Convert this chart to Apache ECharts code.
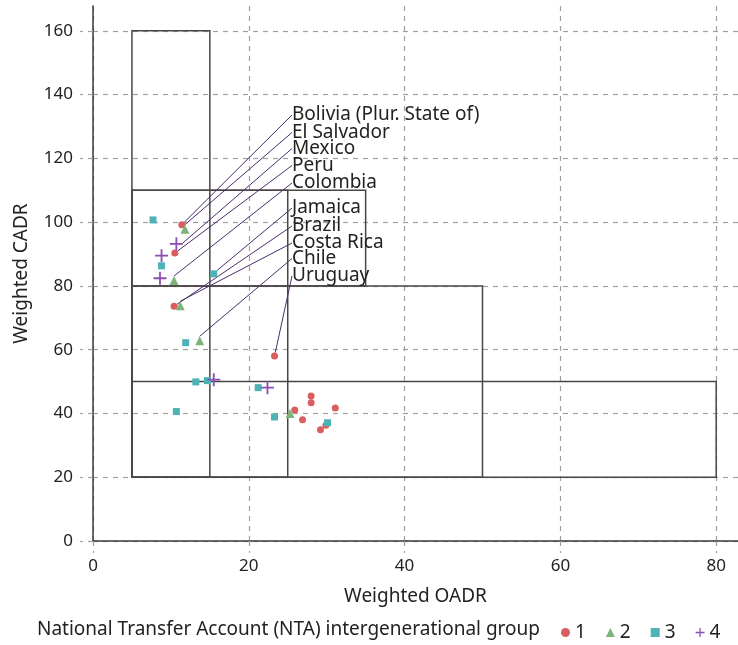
<!DOCTYPE html>
<html><head><meta charset="utf-8">
<script src="https://cdn.jsdelivr.net/npm/echarts@6/dist/echarts.min.js"></script>
<style>html,body{margin:0;padding:0;background:#fff}#c{width:738px;height:645px}</style>
</head><body><div id="c"></div>
<script>
const xTicks = [0, 20, 40, 60, 80];
const yTicks = [0, 20, 40, 60, 80, 100, 120, 140, 160];
const groupNames = ['1', '2', '3', '4'];
const group1 = [[11.4, 99.2], [10.5, 90.3], [10.4, 73.6], [23.3, 58.0], [28.0, 45.5], [28.0, 43.4], [25.9, 41.1], [26.9, 38.0], [31.1, 41.7], [29.9, 36.3], [29.2, 34.9]];
const group2 = [[11.8, 97.8], [10.4, 81.7], [11.2, 73.8], [13.7, 62.8], [25.3, 40.0]];
const group3 = [[7.7, 100.7], [8.8, 86.3], [15.5, 83.8], [11.9, 62.2], [13.2, 49.9], [14.7, 50.3], [21.2, 48.1], [10.7, 40.6], [23.3, 38.9], [30.1, 37.1]];
const group4 = [[10.7, 93.2], [8.8, 89.5], [8.6, 82.4], [15.5, 50.6], [22.4, 48.1]];
// [country, group index, point index]
const countryLabels = [
  ['Bolivia (Plur. State of)', 0, 0],
  ['El Salvador', 1, 0],
  ['Mexico', 3, 0],
  ['Peru', 0, 1],
  ['Colombia', 1, 1],
  ['Jamaica', 2, 2],
  ['Brazil', 0, 2],
  ['Costa Rica', 1, 2],
  ['Chile', 1, 3],
  ['Uruguay', 0, 3]
];
// boxes: [xMin, xMax, yMin, yMax]
const boxes = [[5, 15, 20, 160], [5, 35, 80, 110], [5, 25, 20, 110], [5, 50, 20, 80], [5, 80, 20, 50]];

// ---- styling / layout ----
const FONT = '"Noto Sans", sans-serif';
const TXT = '#222';
const colors = ['#d95f5f', '#7db37b', '#4db3b7', '#8b4fb3'];
const symbols = ['circle', 'triangle', 'rect', 'path://M0,0.43H0.43V0H0.57V0.43H1V0.57H0.57V1H0.43V0.57H0Z'];
const sizes = [7, 9, 7, 13];
const labelX = 292;
const labelSlotY = [115, 132.5, 148.5, 165.5, 183, 208, 226, 243, 258.5, 276];
const groups = [group1, group2, group3, group4];

function slotOf(g, i) {
  return countryLabels.findIndex(c => c[1] === g && c[2] === i);
}
function seriesData(g) {
  return groups[g].map((p, i) => {
    const s = slotOf(g, i);
    const item = { value: p };
    if (s >= 0) { item.name = countryLabels[s][0]; item.label = { show: true }; item.labelLine = { show: true }; }
    return item;
  });
}

const chart = echarts.init(document.getElementById('c'), null, { renderer: 'canvas' });
const gridLine = { show: true, lineStyle: { color: '#a0a0a0', type: [5, 5], width: 1.2 } };
const scatterSeries = groups.map((g, gi) => ({
  name: groupNames[gi],
  type: 'scatter',
  z: 3,
  symbol: symbols[gi],
  symbolSize: sizes[gi],
  itemStyle: { color: colors[gi], opacity: 1 },
  data: seriesData(gi),
  label: {
    show: false,
    formatter: '{b}',
    fontSize: 19,
    lineHeight: 19,
    fontFamily: FONT,
    color: TXT
  },
  labelLine: { show: false, lineStyle: { color: '#4b2d6b', width: 1 } },
  labelLayout: function (params) {
    const s = slotOf(gi, params.dataIndex);
    if (s < 0) return {};
    return { x: labelX, y: labelSlotY[s], align: 'left', verticalAlign: 'middle' };
  },
  emphasis: { disabled: true }
}));

chart.setOption({
  animation: false,
  backgroundColor: '#fff',
  title: {
    text: 'National Transfer Account (NTA) intergenerational group',
    left: 37, top: 620,
    padding: 0,
    textStyle: { fontSize: 19, fontWeight: 'normal', color: TXT, fontFamily: FONT }
  },
  legend: {
    data: groupNames,
    left: 561, top: 623,
    padding: 0,
    itemWidth: 9, itemHeight: 9,
    itemGap: 20,
    textStyle: { fontSize: 19, color: TXT, fontFamily: FONT, padding: [0, 0, 0, 0] }
  },
  grid: { left: 93, right: 0, top: 6, bottom: 104, containLabel: false, outerBoundsMode: 'none' },
  xAxis: {
    type: 'value', min: 0, max: 82.8,
    name: 'Weighted OADR', nameLocation: 'middle', nameGap: 46,
    nameTextStyle: { fontSize: 19, color: TXT, fontFamily: FONT },
    axisLine: { onZero: false, lineStyle: { color: '#3a3a3a', width: 1.5 } },
    axisTick: { show: true, length: 12, customValues: xTicks, lineStyle: { color: '#a0a0a0', type: [5, 5], width: 1.2 } },
    axisLabel: { customValues: xTicks, fontSize: 17, color: TXT, fontFamily: FONT, margin: 17 },
    splitLine: gridLine
  },
  yAxis: {
    type: 'value', min: 0, max: 167.8,
    name: 'Weighted CADR', nameLocation: 'middle', nameGap: 62,
    nameTextStyle: { fontSize: 19, color: TXT, fontFamily: FONT },
    axisLine: { show: true, onZero: false, lineStyle: { color: '#3a3a3a', width: 1.5 } },
    axisTick: { show: true, length: 13, customValues: yTicks, lineStyle: { color: '#a0a0a0', type: [5, 5], width: 1.2 } },
    axisLabel: { customValues: yTicks, fontSize: 17, color: TXT, fontFamily: FONT, margin: 20 },
    splitLine: gridLine
  },
  series: scatterSeries.concat([{
    type: 'custom',
    name: 'boxes',
    z: 1,
    silent: true,
    encode: { x: [0, 1], y: [2, 3] },
    data: boxes,
    renderItem: function (params, api) {
      const p0 = api.coord([api.value(0), api.value(3)]);
      const p1 = api.coord([api.value(1), api.value(2)]);
      return {
        type: 'rect',
        shape: { x: p0[0], y: p0[1], width: p1[0] - p0[0], height: p1[1] - p0[1] },
        style: { fill: 'none', stroke: '#4a4644', lineWidth: 1.5 }
      };
    }
  }])
});
</script></body></html>
